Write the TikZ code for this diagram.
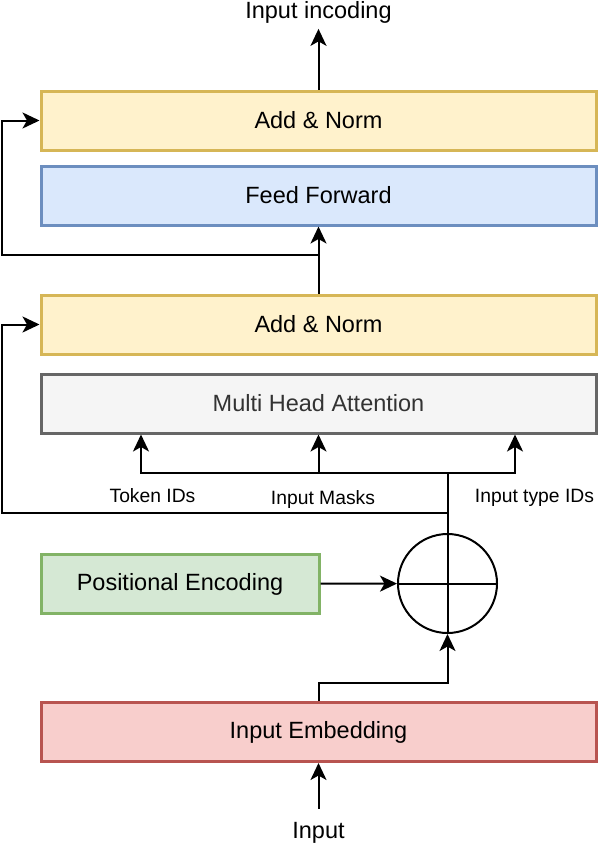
\documentclass[tikz,border=0pt]{standalone}
\usepackage{fontspec}
\setmainfont{Liberation Sans}
\usetikzlibrary{arrows.meta}

\definecolor{normfill}{HTML}{FFF2CC}
\definecolor{normdraw}{HTML}{D6B656}
\definecolor{fffill}{HTML}{DAE8FC}
\definecolor{ffdraw}{HTML}{6C8EBF}
\definecolor{attfill}{HTML}{F5F5F5}
\definecolor{attdraw}{HTML}{666666}
\definecolor{atttext}{HTML}{333333}
\definecolor{posfill}{HTML}{D5E8D4}
\definecolor{posdraw}{HTML}{82B366}
\definecolor{embfill}{HTML}{F8CECC}
\definecolor{embdraw}{HTML}{B85450}

\begin{document}
\begin{tikzpicture}[
        x=1pt, y=-1pt,
        block/.style={rectangle, draw, line width=3pt, minimum width=555pt, minimum height=59pt,
            inner sep=0pt, font=\fontsize{23.5}{28}\selectfont},
        lbl/.style={inner sep=6pt, font=\fontsize{23.5}{28}\selectfont},
        tag/.style={inner sep=0pt, anchor=base, font=\fontsize{19.3}{23}\selectfont},
        every path/.style={line width=2pt},
        >={Stealth[length=17pt, width=16pt, inset=4.5pt]}
    ]
        \useasboundingbox (0,0) rectangle (598,844);

        \node[block, fill=normfill, draw=normdraw] (norm2) at (318.5, 120.5) {Add \& Norm};
        \node[block, fill=fffill, draw=ffdraw] (ff) at (318.5, 195.5) {Feed Forward};
        \node[block, fill=normfill, draw=normdraw] (norm1) at (318.5, 324.5) {Add \& Norm};
        \node[block, fill=attfill, draw=attdraw, text=atttext] (mha) at (318.5, 403.5) {Multi Head Attention};
        \node[block, fill=posfill, draw=posdraw, minimum width=278pt] (pos) at (180, 584) {Positional Encoding};
        \node[block, fill=embfill, draw=embdraw] (emb) at (318.5, 732) {Input Embedding};
        \node[circle, draw, minimum size=99pt, inner sep=0pt] (sum) at (447.5, 583.5) {};

        \node[lbl, anchor=base] (in) at (318.5, 838) {Input};
        \node[lbl, anchor=base, inner sep=4.5pt] (out) at (318.5, 18.5) {Input incoding};

        \node[tag] (tokid) at (152.5, 502) {Token IDs};
        \node[tag] (mask) at (323, 504.5) {Input Masks};
        \node[tag] (typeid) at (534.5, 502) {Input type IDs};

        \coordinate (split) at (447.5, 472.5);
        \coordinate (fb1) at (447.5, 512.5);
        \coordinate (fb2) at (318.5, 255);
        \coordinate (tokin) at ([xshift=-177.5pt]mha.south);
        \coordinate (typein) at ([xshift=196.5pt]mha.south);

        % plus sign
        \draw (sum.west) -- (sum.east);
        \draw (sum.north) -- (sum.south);

        \draw[->, shorten <=6pt] (in.north) -- (emb.south);
        \draw[->] (emb.north) -- ++(0,-18) -| (sum.south);
        \draw[->] (pos) -- (sum);

        \draw (sum.north) -- (split);
        \draw[->] (split) -| (tokin);
        \draw[->] (split) -| (typein);
        \draw[->] (split -| mha.south) -- (mha.south);

        \draw[->] (fb1) -- ++(-445.5,0) |- (norm1.west);
        \draw[->] (norm1) -- (ff);
        \draw[->] (fb2) -- ++(-316.5,0) |- (norm2.west);
        \draw[->] (norm2) -- (out);
    \end{tikzpicture}
\end{document}
